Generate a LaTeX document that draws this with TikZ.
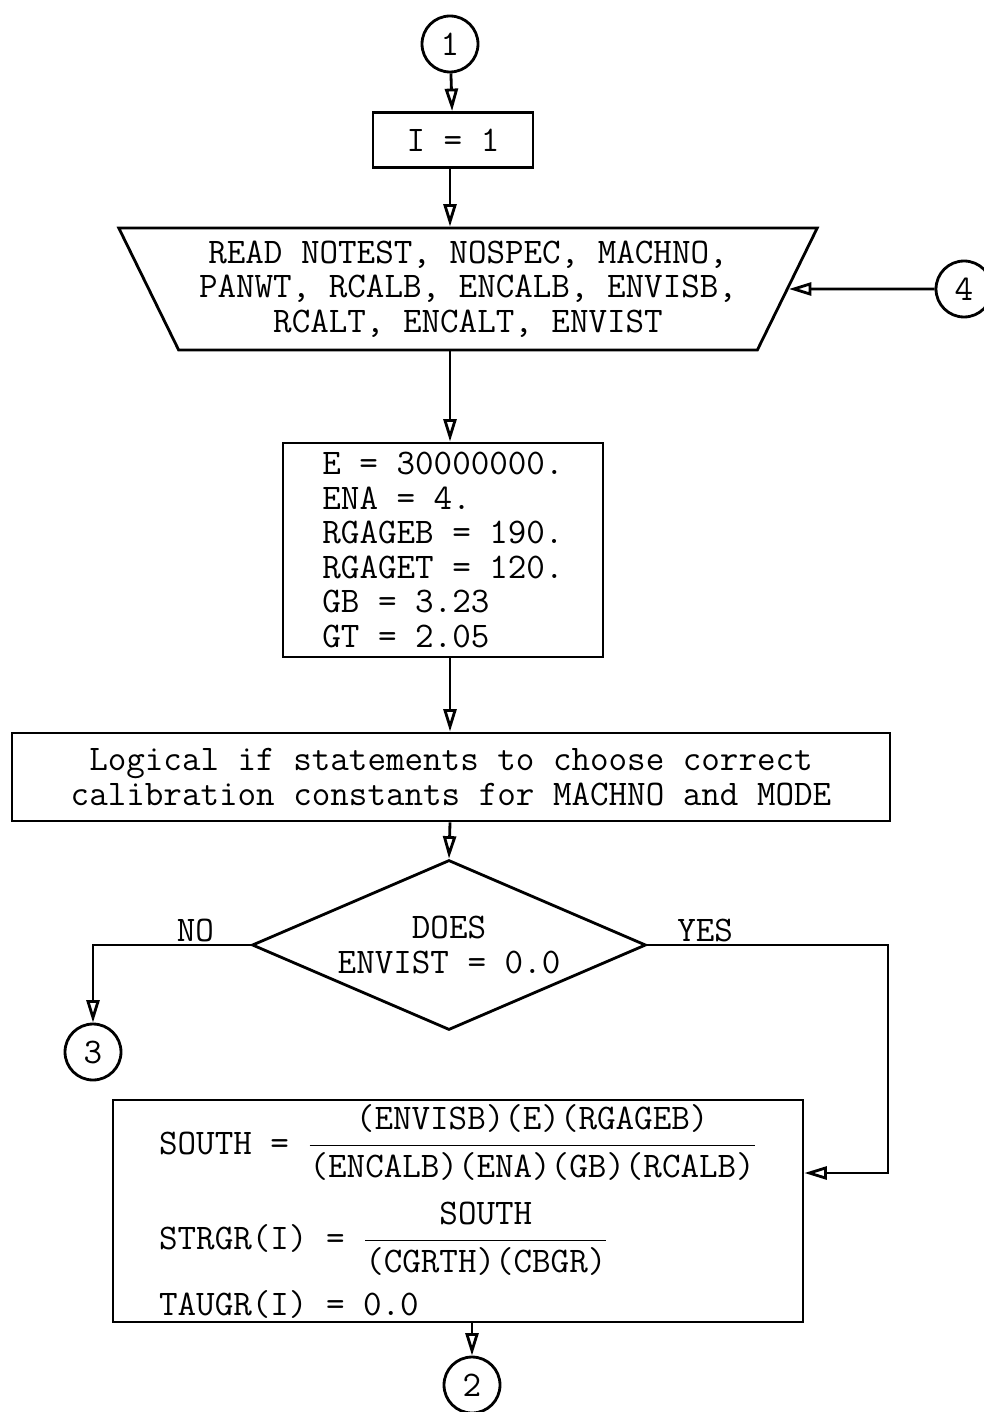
\documentclass[tikz,border=0pt]{standalone}
\usepackage{amsmath}
\usepackage{tikz}
\usetikzlibrary{shapes.geometric, arrows.meta, positioning, calc}
\newcommand{\numstrut}{\rule[-8pt]{0pt}{8pt}}
\newcommand{\denstrut}{\rule{0pt}{17pt}}
\tikzset{
	conn/.style    ={circle, draw=black, line width=1.6pt, minimum size=1.12cm, inner sep=0pt},
	procbox/.style ={rectangle, draw=black, line width=1.6pt, align=center, inner sep=2pt},
	readbox/.style ={trapezium, trapezium left angle=60, trapezium right angle=60, shape border rotate=180, trapezium stretches=true, draw=black, line width=1.6pt, align=center, inner sep=0pt},
	decision/.style={diamond, aspect=2.3, draw=black, line width=1.6pt, align=center, inner sep=0pt},
	flow/.style    ={-{Triangle[open, length=4.5mm, width=2.6mm]}, line width=1.6pt},
	lbl/.style     ={above, inner sep=1pt},
}
\begin{document}
\begin{tikzpicture}[x=0.02cm, y=-0.02cm, font=\fontsize{20.5}{19.6}\selectfont\ttfamily]
	\useasboundingbox (0,0) rectangle (983,1412);
	% start and initial value
	\node[conn] (c1) at (450,44) {1};
	\node[procbox, minimum width=3.2cm, minimum height=1.1cm] (init) at (453,140) {I = 1};
	% input
	\node[readbox, minimum width=14cm, minimum height=2.44cm] (read) at (468,289)
		{READ NOTEST, NOSPEC, MACHNO,\\ PANWT, RCALB, ENCALB, ENVISB,\\ RCALT, ENCALT, ENVIST};
	\node[conn] (c4) at (964,289) {4};
	% constants
	\node[procbox, align=left, minimum width=6.4cm, minimum height=4.28cm] (const) at (443,550)
		{E = 30000000.\\ ENA = 4.\\ RGAGEB = 190.\\ RGAGET = 120.\\ GB = 3.23\\ GT = 2.05};
	\node[procbox, minimum width=17.56cm, minimum height=1.76cm] (logic) at (451,777)
		{Logical if statements to choose correct\\ calibration constants for MACHNO and MODE};
	% test
	\node[decision, minimum width=7.88cm, minimum height=3.4cm] (test) at (449,945) {DOES\\ ENVIST = 0.0};
	\node[conn] (c3) at (93,1052) {3};
	\coordinate (yesturn) at (888,945);
	% stresses
	\node[procbox, align=left, minimum width=13.8cm, minimum height=4.44cm] (stress) at (458,1211)
		{SOUTH = $\frac{\mbox{(ENVISB)(E)(RGAGEB)}\numstrut}{\denstrut\mbox{(ENCALB)(ENA)(GB)(RCALB)}}$\\[0.4cm]
		 STRGR(I) = $\frac{\mbox{SOUTH}\numstrut}{\denstrut\mbox{(CGRTH)(CBGR)}}$\\[0.25cm]
		 TAUGR(I) = 0.0};
	\node[conn] (c2) at (472,1385) {2};
	% connectors
	\draw[flow] (c1) -- (init);
	\draw[flow] (init.south -| c1) -- (read.north -| c1);
	\draw[flow] (c4) -- (read);
	\draw[flow] (read.south -| c1) -- (const.north -| c1);
	\draw[flow] (const.south -| c1) -- (logic.north -| c1);
	\draw[flow] (logic.south -| c1) -- (test.north);
	\draw[flow] (test.west) -- node[lbl, pos=0.35] {NO} (test.west -| c3) -- (c3);
	\draw[flow] (test.east) -- node[lbl, pos=0.24] {YES} (yesturn) |- ($(stress.east)+(0,-38)$);
	\draw[flow] (stress.south -| c2) -- (c2);
\end{tikzpicture}
\end{document}
